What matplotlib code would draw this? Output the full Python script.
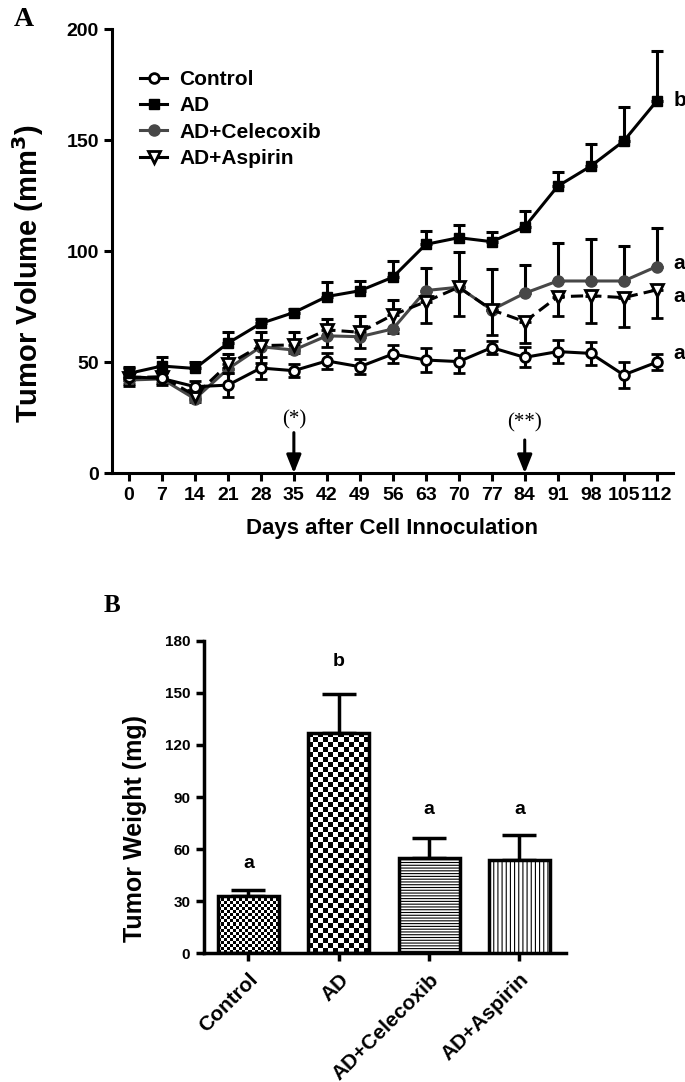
import numpy as np
import matplotlib
matplotlib.use('Agg')
import matplotlib.pyplot as plt

plt.rcParams['font.family'] = ['Liberation Sans', 'DejaVu Sans']
plt.rcParams['font.weight'] = 'bold'
plt.rcParams['hatch.linewidth'] = 0.8

# panel A: tumor volume over time (mean, SEM)
days = [0, 7, 14, 21, 28, 35, 42, 49, 56, 63, 70, 77, 84, 91, 98, 105, 112]
control = [43.5, 42.7, 39, 39.7, 47.4, 46.2, 50.6, 48, 53.7, 51, 50.3, 56.6, 52.2, 54.8, 54, 44.3, 50]
control_err = [4, 3, 2.5, 5.5, 5, 3, 3.5, 3.5, 4, 5.3, 5.3, 3, 4.5, 5.3, 5.2, 6, 3.5]
ad = [45, 48.3, 47.2, 58.6, 67.5, 72.4, 79.6, 82.2, 88.3, 103.1, 106.1, 104.3, 111, 129.3, 138.3, 149.6, 167.6]
ad_err = [3, 4, 3, 5, 2, 1.5, 6.5, 4.5, 7.5, 6, 5.7, 4.5, 7.2, 6.5, 10, 15.5, 22.6]
celecoxib = [42, 42.5, 33.5, 47, 57, 55.5, 61.9, 61.5, 65, 82.3, 83.8, 73.6, 81.1, 86.6, 86.6, 86.6, 93.1]
celecoxib_err = [3, 3, 3, 6.7, 6.8, 8.3, 7.5, 9.5, 13, 10.3, 16, 18.3, 12.7, 17, 18.8, 15.9, 17.2]
aspirin = [43, 43.5, 35, 49, 57.5, 57.8, 64.6, 63.5, 71.3, 77.3, 83.8, 73.6, 68.3, 79.5, 80, 79.1, 82.6]
aspirin_err = [3, 3, 3, 4, 8, 3.8, 7.6, 7, 8.3, 9.5, 12.8, 11.3, 9.5, 8.5, 12.4, 13.1, 12.5]
end_letters = ['a', 'b', 'a', 'a']
end_letter_y = [54, 167.7, 94.7, 79.5]
arrow_days = [35, 84]
arrow_text = ['(*)', '(**)']
arrow_top = [18.3, 15]
arrow_text_y = [24, 22.5]

# panel B: final tumor weight
groups = ['Control', 'AD', 'AD+Celecoxib', 'AD+Aspirin']
weight = [33, 127, 55, 54]
weight_err = [3.3, 22.6, 11.5, 14.4]
weight_letters = ['a', 'b', 'a', 'a']
weight_letter_y = [52, 168, 83, 83]

fig = plt.figure(figsize=(6.85, 10.82), dpi=100)

# ---------------- panel A ----------------
ax = fig.add_axes([0.1635, 0.5626, 0.8185, 0.4104])
lw = 2.2
common = dict(elinewidth=lw, capsize=4.3, capthick=lw, ecolor='black', lw=lw)
zeros = np.zeros(len(days))

c = ax.errorbar(days, control, yerr=control_err, color='black', marker='o', ms=7,
                mfc='white', mew=2, zorder=4, **common)
a = ax.errorbar(days, ad, yerr=[zeros, ad_err], color='black', marker='s', ms=7,
                zorder=5, **common)
ce = ax.errorbar(days, celecoxib, yerr=[zeros, celecoxib_err], color='#474747', marker='o',
                 ms=8, zorder=3, **common)
asp = ax.errorbar(days, aspirin, yerr=[aspirin_err, zeros], color='black', marker='v', ms=8,
                  mfc='white', mew=2, ls=(0, (4, 2)), zorder=3, **common)

ax.set_xlim(-3.6, 115.4)
ax.set_ylim(0, 200)
ax.set_xticks(days)
ax.set_xticklabels([str(d) for d in days])
ax.set_yticks([0, 50, 100, 150, 200])
for s in ['top', 'right']:
    ax.spines[s].set_visible(False)
for s in ['left', 'bottom']:
    ax.spines[s].set_linewidth(lw)
ax.tick_params(width=lw, length=6, labelsize=14)
ax.tick_params(axis='x', pad=4)
ax.set_ylabel('Tumor Volume (mm$^\\mathbf{3}$)', fontsize=21, fontweight='bold')
ax.yaxis.set_label_coords(-0.118, 0.45)
ax.set_xlabel('Days after Cell Innoculation', fontsize=16, fontweight='bold', labelpad=10)

for d, t, top, ty in zip(arrow_days, arrow_text, arrow_top, arrow_text_y):
    ax.annotate('', xy=(d, 0), xytext=(d, top),
                arrowprops=dict(arrowstyle='-|>,head_length=0.55,head_width=0.22',
                                lw=lw, color='black', mutation_scale=20, shrinkA=0, shrinkB=0))
    ax.text(d, ty, t, ha='center', va='center', fontsize=15, fontweight='normal',
            family='Liberation Serif')

for lab, ly in zip(end_letters, end_letter_y):
    ax.text(115.5, ly, lab, ha='left', va='center', fontsize=15, clip_on=False)

leg = ax.legend([c[0], a[0], ce[0], asp[0]], ['Control', 'AD', 'AD+Celecoxib', 'AD+Aspirin'],
                loc='upper left', bbox_to_anchor=(140 / 685, 1 - 70 / 1082),
                bbox_transform=fig.transFigure, frameon=False, fontsize=15,
                handlelength=1.3, handletextpad=0.6, labelspacing=0.35,
                borderpad=0, borderaxespad=0)
for h in leg.legend_handles:
    h.set_linestyle('-')

fig.text(24 / 685, 1 - 19 / 1082, 'A', ha='center', va='center', fontsize=20,
         family='Liberation Serif', fontweight='bold')

# ---------------- panel B ----------------
bx = fig.add_axes([0.2971, 0.1189, 0.5292, 0.2889])
pos = np.arange(len(groups))
bars = bx.bar(pos, weight, width=0.675, color='none', edgecolor='black', linewidth=2.5, zorder=3)
bx.errorbar(pos, weight, yerr=[np.zeros(len(pos)), weight_err], fmt='none', ecolor='black',
            elinewidth=2.5, capsize=12, capthick=2.5, zorder=1)
bx.set_xlim(-0.498, 3.516)
bx.set_ylim(0, 180)
bx.set_yticks([0, 30, 60, 90, 120, 150, 180])
bx.set_xticks(pos)
bx.set_xticklabels(groups, rotation=45, ha='right', rotation_mode='anchor', fontsize=15)
for s in ['top', 'right']:
    bx.spines[s].set_visible(False)
for s in ['left', 'bottom']:
    bx.spines[s].set_linewidth(2.5)
bx.tick_params(width=2.5, length=6, labelsize=11)
bx.tick_params(axis='x', labelsize=15, pad=6)
bx.set_ylabel('Tumor Weight (mg)', fontsize=18, fontweight='bold')
bx.yaxis.set_label_coords(-0.155, 0.40)

# checkerboard fills for Control and AD, line hatches for the rest
fig.canvas.draw()
for bar, cell in zip(bars[:2], [3.0, 5.0]):
    x0, y0 = bar.get_x(), bar.get_y()
    x1, y1 = x0 + bar.get_width(), y0 + bar.get_height()
    p0 = bx.transData.transform((x0, y0))
    p1 = bx.transData.transform((x1, y1))
    nx = max(1, int(round((p1[0] - p0[0]) / cell)))
    ny = max(1, int(round((p1[1] - p0[1]) / cell)))
    board = (np.add.outer(np.arange(ny), np.arange(nx)) % 2).astype(float)
    im = bx.imshow(board, cmap='gray', extent=(x0, x1, y0, y1), aspect='auto',
                   interpolation='nearest', zorder=2, vmin=0, vmax=1)
    im.set_clip_path(bar)
for bar in bars[2:]:
    bar.set_facecolor('white')
bars[2].set_hatch('------')
bars[3].set_hatch('||||')
bx.set_xlim(-0.498, 3.516)
bx.set_ylim(0, 180)

for p, lab, ly in zip(pos, weight_letters, weight_letter_y):
    bx.text(p, ly, lab, ha='center', va='center', fontsize=14)

fig.text(112 / 685, 1 - 605 / 1082, 'B', ha='center', va='center', fontsize=18,
         family='Liberation Serif', fontweight='bold')

fig.savefig('out.png', dpi=100)
